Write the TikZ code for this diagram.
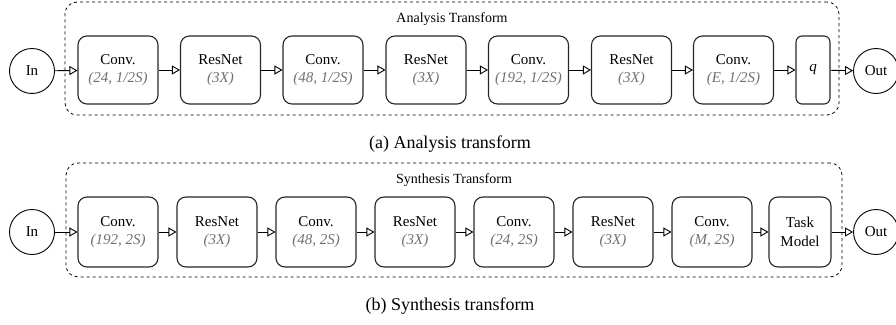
\documentclass[tikz,border=0pt]{standalone}
\usepackage{fontspec}
\setmainfont{Liberation Serif}
\usetikzlibrary{arrows,arrows.meta}
\definecolor{arg_gray}{RGB}{112, 112, 112}
\tikzstyle{blk}=[rectangle,rounded corners=9pt,draw=black!85,line width=1.1pt,
  minimum width=80pt,minimum height=68pt,inner sep=0pt,align=center,
  font=\fontsize{15}{18.5}\selectfont]
\tikzstyle{io}=[circle,draw=black,line width=0.9pt,minimum size=45pt,
  inner sep=0pt,font=\fontsize{15}{17}\selectfont]
\tikzstyle{frame}=[rectangle,rounded corners=12pt,draw=black,dashed,line width=0.8pt]
\tikzstyle{title}=[font=\fontsize{14}{16}\selectfont]
\tikzstyle{caption}=[font=\fontsize{18}{20}\selectfont]
\tikzstyle{flow}=[-{Triangle[open,length=8pt,width=9pt]},line width=0.9pt]
\tikzstyle{none}=[]
\newcommand{\prm}[1]{{\color{arg_gray}\itshape #1}}

\begin{document}
\begin{tikzpicture}[x=1pt,y=-1pt]
            \useasboundingbox (0,0) rectangle (896,324);
            % analysis transform
            \node [style=frame,minimum width=774pt,minimum height=113pt] (1) at (452, 58.5) {};
            \node [style=title] (2) at (452, 19) {Analysis Transform};
            \node [style=io] (3) at (32, 71) {In};
            \node [style=blk] (4) at (118, 70) {Conv.\\\prm{(24, 1/2S)}};
            \node [style=blk] (5) at (220.5, 70) {ResNet\\\prm{(3X)}};
            \node [style=blk] (6) at (323, 70) {Conv.\\\prm{(48, 1/2S)}};
            \node [style=blk] (7) at (426, 70) {ResNet\\\prm{(3X)}};
            \node [style=blk] (8) at (528.5, 70) {Conv.\\\prm{(192, 1/2S)}};
            \node [style=blk] (9) at (631.5, 70) {ResNet\\\prm{(3X)}};
            \node [style=blk] (10) at (733.5, 70) {Conv.\\\prm{(E, 1/2S)}};
            \node [style=blk,minimum width=34pt,rounded corners=6pt] (11) at (813, 70) {\itshape q};
            \node [style=io] (12) at (876, 71) {Out};
            \node [style=caption] (13) at (450, 144) {(a) Analysis transform};
            \draw [style=flow] (3) to (4);
            \draw [style=flow] (4) to (5);
            \draw [style=flow] (5) to (6);
            \draw [style=flow] (6) to (7);
            \draw [style=flow] (7) to (8);
            \draw [style=flow] (8) to (9);
            \draw [style=flow] (9) to (10);
            \draw [style=flow] (10) to (11);
            \draw [style=flow] (11) to (12);
            % synthesis transform
            \node [style=frame,minimum width=776pt,minimum height=114pt] (14) at (454, 220) {};
            \node [style=title] (15) at (454, 180) {Synthesis Transform};
            \node [style=io] (16) at (32, 232) {In};
            \node [style=blk,minimum height=70pt] (17) at (118, 232) {Conv.\\\prm{(192, 2S)}};
            \node [style=blk,minimum height=70pt] (18) at (217, 232) {ResNet\\\prm{(3X)}};
            \node [style=blk,minimum height=70pt] (19) at (316, 232) {Conv.\\\prm{(48, 2S)}};
            \node [style=blk,minimum height=70pt] (20) at (415, 232) {ResNet\\\prm{(3X)}};
            \node [style=blk,minimum height=70pt] (21) at (514, 232) {Conv.\\\prm{(24, 2S)}};
            \node [style=blk,minimum height=70pt] (22) at (613, 232) {ResNet\\\prm{(3X)}};
            \node [style=blk,minimum height=70pt] (23) at (712, 232) {Conv.\\\prm{(M, 2S)}};
            \node [style=blk,minimum height=70pt,minimum width=62pt] (24) at (800, 232) {Task\\Model};
            \node [style=io] (25) at (876, 232) {Out};
            \node [style=caption] (26) at (450, 306) {(b) Synthesis transform};
            \draw [style=flow] (16) to (17);
            \draw [style=flow] (17) to (18);
            \draw [style=flow] (18) to (19);
            \draw [style=flow] (19) to (20);
            \draw [style=flow] (20) to (21);
            \draw [style=flow] (21) to (22);
            \draw [style=flow] (22) to (23);
            \draw [style=flow] (23) to (24);
            \draw [style=flow] (24) to (25);
\end{tikzpicture}
\end{document}
